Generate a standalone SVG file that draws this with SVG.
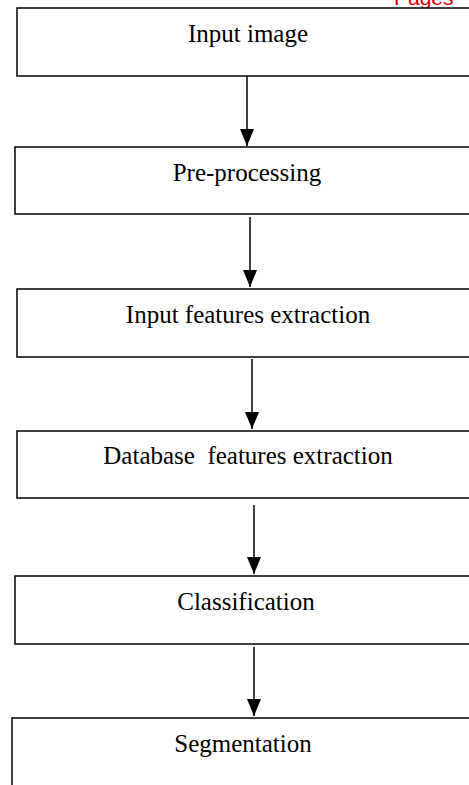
<svg xmlns="http://www.w3.org/2000/svg" width="469" height="785" viewBox="0 0 469 785">
<defs>
<style>
.box{fill:#fff;stroke:#000;stroke-width:1.5}
.lbl{font-family:"Liberation Serif","Times New Roman",serif;font-size:25px;fill:#000;text-anchor:middle}
.conn{stroke:#000;stroke-width:1.5;fill:none}
</style>
<marker id="ah" markerWidth="17" markerHeight="16" refX="17" refY="8" orient="auto" markerUnits="userSpaceOnUse">
<path d="M0,1 L17,8 L0,15 Z" fill="#000"/>
</marker>
</defs>
<rect width="469" height="785" fill="#fff"/>
<text x="394" y="5" style="font-family:'Liberation Sans',Arial,sans-serif;font-size:21px;fill:#d00000">Pages</text>
<g id="n1"><rect class="box" x="17" y="8" width="470" height="68"/><text class="lbl" x="248" y="42">Input image</text></g>
<g id="n2"><rect class="box" x="15" y="147" width="470" height="67"/><text class="lbl" x="247" y="181">Pre-processing</text></g>
<g id="n3"><rect class="box" x="17" y="289" width="470" height="68"/><text class="lbl" x="248" y="323">Input features extraction</text></g>
<g id="n4"><rect class="box" x="17" y="431" width="470" height="67"/><text class="lbl" x="248" y="464" xml:space="preserve">Database  features extraction</text></g>
<g id="n5"><rect class="box" x="15" y="576" width="470" height="68"/><text class="lbl" x="246" y="610">Classification</text></g>
<g id="n6"><rect class="box" x="12" y="718" width="470" height="100"/><text class="lbl" x="243" y="752">Segmentation</text></g>
<g id="connectors">
<line class="conn" x1="247" y1="76" x2="247" y2="146" marker-end="url(#ah)"/>
<line class="conn" x1="250" y1="217" x2="250" y2="287" marker-end="url(#ah)"/>
<line class="conn" x1="252" y1="359" x2="252" y2="429" marker-end="url(#ah)"/>
<line class="conn" x1="254" y1="505" x2="254" y2="574" marker-end="url(#ah)"/>
<line class="conn" x1="254" y1="647" x2="254" y2="716" marker-end="url(#ah)"/>
</g>
</svg>
